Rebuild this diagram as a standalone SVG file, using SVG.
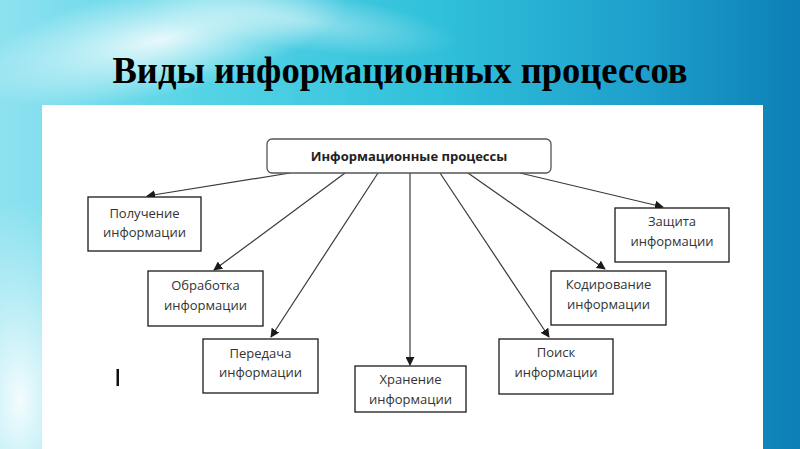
<svg xmlns="http://www.w3.org/2000/svg" width="800" height="449" viewBox="0 0 800 449">
<defs>
<linearGradient id="bg" x1="0" y1="0" x2="1" y2="0">
<stop offset="0" stop-color="#8fe2f0"/>
<stop offset="0.25" stop-color="#55d4e6"/>
<stop offset="0.55" stop-color="#30c0da"/>
<stop offset="0.8" stop-color="#1ea0cc"/>
<stop offset="1" stop-color="#0c7fb6"/>
</linearGradient>
<radialGradient id="glow1" cx="0.5" cy="0.5" r="0.5">
<stop offset="0" stop-color="#ffffff" stop-opacity="0.85"/>
<stop offset="1" stop-color="#ffffff" stop-opacity="0"/>
</radialGradient>
<radialGradient id="glow2" cx="0.5" cy="0.5" r="0.5">
<stop offset="0" stop-color="#ffffff" stop-opacity="0.9"/>
<stop offset="1" stop-color="#e8f9fc" stop-opacity="0"/>
</radialGradient>
<marker id="arr" viewBox="0 0 10 10" refX="9" refY="5" markerWidth="9" markerHeight="9" markerUnits="userSpaceOnUse" orient="auto">
<path d="M0,0 L10,5 L0,10 z" fill="#1a1a1a"/>
</marker>
<style>
.box{fill:#ffffff;stroke:#1a1a1a;stroke-width:1.3}
.top{fill:#ffffff;stroke:#555555;stroke-width:1.3}
.t{font-family:"Open Sans","Noto Sans","Liberation Sans",sans-serif;font-size:13px;fill:#333333;text-anchor:middle}
.tb{font-family:"Open Sans","Noto Sans","Liberation Sans",sans-serif;font-size:13px;font-weight:bold;fill:#222222;text-anchor:middle}
.c{stroke:#3a3a3a;stroke-width:1.2;fill:none;marker-end:url(#arr)}
</style>
</defs>
<rect x="0" y="0" width="800" height="449" fill="url(#bg)"/>
<ellipse cx="160" cy="40" rx="190" ry="55" fill="url(#glow1)" transform="rotate(-12 160 40)"/>
<ellipse cx="20" cy="400" rx="90" ry="200" fill="url(#glow2)"/>
<ellipse cx="300" cy="20" rx="160" ry="30" fill="url(#glow1)" opacity="0.5" transform="rotate(8 300 20)"/>
<text x="400" y="83" font-family="'Liberation Serif','DejaVu Serif',serif" font-size="37" font-weight="bold" fill="#000000" text-anchor="middle" textLength="575" lengthAdjust="spacingAndGlyphs">Виды информационных процессов</text>
<rect x="42" y="105" width="721" height="344" fill="#ffffff"/>
<rect x="116.5" y="369" width="2.5" height="17" fill="#111111"/>
<g id="connectors">
<line class="c" x1="290" y1="173" x2="147" y2="196"/>
<line class="c" x1="345" y1="173" x2="214" y2="270"/>
<line class="c" x1="378" y1="173" x2="271" y2="337"/>
<line class="c" x1="410" y1="173" x2="410" y2="365"/>
<line class="c" x1="440" y1="173" x2="549" y2="337"/>
<line class="c" x1="468" y1="173" x2="605" y2="269"/>
<line class="c" x1="520" y1="173" x2="663" y2="207"/>
</g>
<g id="n-main">
<rect class="top" x="267" y="139" width="284" height="34" rx="5"/>
<text class="tb" x="409" y="160.5">Информационные процессы</text>
</g>
<g id="n-poluchenie">
<rect class="box" x="88" y="197" width="113" height="54"/>
<text class="t" x="144.5" y="218">Получение</text>
<text class="t" x="144.5" y="237">информации</text>
</g>
<g id="n-obrabotka">
<rect class="box" x="148" y="271" width="115" height="55"/>
<text class="t" x="205.5" y="290">Обработка</text>
<text class="t" x="205.5" y="310">информации</text>
</g>
<g id="n-peredacha">
<rect class="box" x="203" y="339" width="115" height="54"/>
<text class="t" x="260.5" y="358">Передача</text>
<text class="t" x="260.5" y="377">информации</text>
</g>
<g id="n-hranenie">
<rect class="box" x="355" y="366" width="111" height="46"/>
<text class="t" x="410.5" y="384">Хранение</text>
<text class="t" x="410.5" y="404">информации</text>
</g>
<g id="n-poisk">
<rect class="box" x="499" y="339" width="114" height="55"/>
<text class="t" x="556" y="357">Поиск</text>
<text class="t" x="556" y="377">информации</text>
</g>
<g id="n-kodirovanie">
<rect class="box" x="551" y="271" width="115" height="54"/>
<text class="t" x="608.5" y="289">Кодирование</text>
<text class="t" x="608.5" y="309">информации</text>
</g>
<g id="n-zashchita">
<rect class="box" x="615" y="208" width="114" height="54"/>
<text class="t" x="672" y="226">Защита</text>
<text class="t" x="672" y="246">информации</text>
</g>
</svg>
